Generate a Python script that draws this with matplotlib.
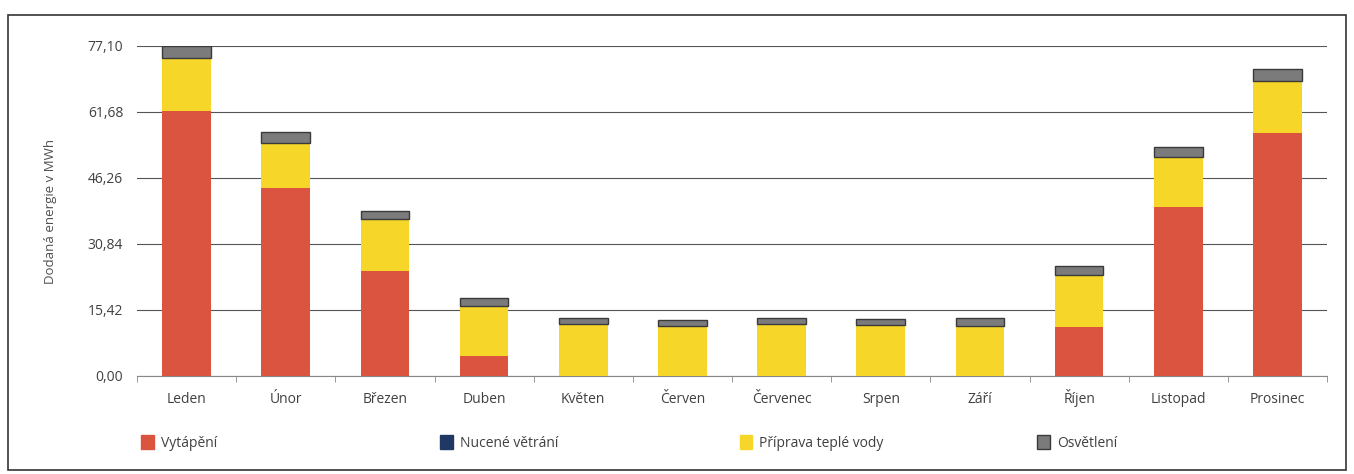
import matplotlib
matplotlib.use("Agg")
import matplotlib.pyplot as plt
import numpy as np
from matplotlib.patches import Patch, Rectangle

months = ["Leden", "Únor", "Březen", "Duben", "Květen", "Červen",
          "Červenec", "Srpen", "Září", "Říjen", "Listopad", "Prosinec"]
heating = [61.9, 43.9, 24.5, 4.6, 0, 0, 0, 0, 0, 11.4, 39.5, 56.7]
ventilation = [0, 0, 0, 0, 0, 0, 0, 0, 0, 0, 0, 0]
hot_water = [12.4, 10.5, 12.2, 11.7, 12.1, 11.6, 12.1, 11.9, 11.7, 12.3, 11.7, 12.2]
lighting = [2.8, 2.6, 1.9, 1.9, 1.5, 1.4, 1.5, 1.5, 1.9, 1.9, 2.4, 2.8]
yticks = [0.00, 15.42, 30.84, 46.26, 61.68, 77.10]

series = [
    ("Vytápění", heating, "#DA5440", "#DA5440"),
    ("Nucené větrání", ventilation, "#1F3864", "#1F3864"),
    ("Příprava teplé vody", hot_water, "#F7D62A", "#F7D62A"),
    ("Osvětlení", lighting, "#7B7B7B", "#3A3A3A"),
]

plt.rcParams["font.family"] = ["Open Sans", "DejaVu Sans"]

fig = plt.figure(figsize=(13.54, 4.74), dpi=100)
ax = fig.add_axes([0.1012, 0.2068, 0.8789, 0.6962])

x = np.arange(len(months))
bottom = np.zeros(len(months))
for label, vals, color, edge in series:
    vals = np.array(vals, dtype=float)
    ax.bar(x, vals, width=0.49, bottom=bottom, color=color,
           edgecolor=edge, linewidth=1.0 if edge != color else 0, zorder=3)
    bottom += vals

ax.set_xlim(-0.5, len(months) - 0.5)
ax.set_ylim(0, 77.10)
ax.set_yticks(yticks)
ax.set_yticklabels([f"{v:.2f}".replace(".", ",") for v in yticks])
ax.set_xticks(x)
ax.set_xticklabels(months)
ax.set_xticks(np.arange(-0.5, len(months), 1), minor=True)
ax.tick_params(axis="x", which="major", length=0, pad=19.5, labelsize=10, colors="#404040")
ax.tick_params(axis="x", which="minor", length=4, color="#888888", direction="out")
ax.tick_params(axis="y", length=0, pad=10, labelsize=10, colors="#404040")
# keep all month names on one baseline (accents like Ř would push it down)
for lbl in ax.get_xticklabels():
    lbl.set_va("baseline")
ax.grid(axis="y", color="#555555", linewidth=0.8, zorder=0)
for s in ["top", "right", "left"]:
    ax.spines[s].set_visible(False)
ax.spines["bottom"].set_color("#888888")
ax.set_ylabel("Dodaná energie v MWh", fontsize=9.5, color="#505050", labelpad=22)

legend_x = [0.095, 0.316, 0.537, 0.757]
for (label, vals, color, edge), lx in zip(series, legend_x):
    h = Patch(facecolor=color, edgecolor=edge if edge != color else color)
    fig.legend([h], [label], loc="center left", bbox_to_anchor=(lx, 0.065),
               frameon=False, fontsize=10, handlelength=0.9, handleheight=1.1,
               handletextpad=0.5, labelcolor="#404040")

fig.patches.append(Rectangle((0.006, 0.008), 0.988, 0.96, transform=fig.transFigure,
                             fill=False, edgecolor="#333333", linewidth=1.2))

fig.savefig("out.png", dpi=100)
